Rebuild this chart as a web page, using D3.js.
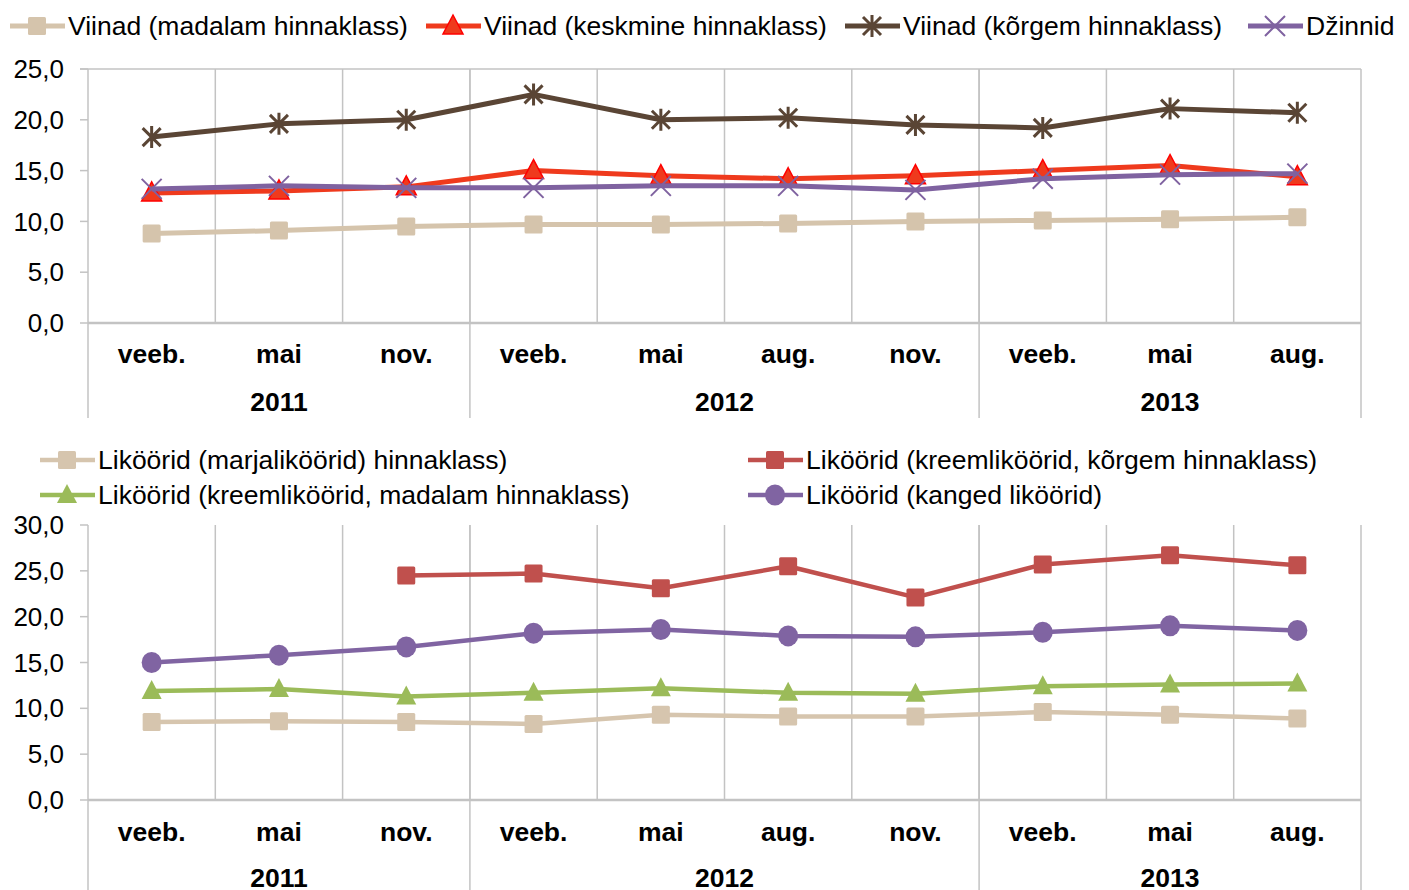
<!DOCTYPE html>
<html>
<head>
<meta charset="utf-8">
<script src="https://cdn.jsdelivr.net/npm/d3@7"></script>
<style>
  body { margin: 0; background: #fff; }
  svg { display: block; font-family: "Liberation Sans", Arial, sans-serif; }
</style>
</head>
<body>
<svg id="chart" width="1409" height="890"></svg>
<script>
// categories (shared by both panels)
var months = ["veeb.", "mai", "nov.", "veeb.", "mai", "aug.", "nov.", "veeb.", "mai", "aug."];
var years = ["2011", "2012", "2013"];
var yearSpans = [3, 4, 3];

// top panel - wines and gin
var viinMadal = [8.8, 9.1, 9.5, 9.7, 9.7, 9.8, 10.0, 10.1, 10.2, 10.4];
var viinKeskm = [12.8, 13.0, 13.4, 15.0, 14.5, 14.2, 14.5, 15.0, 15.5, 14.4];
var viinKorgem = [18.3, 19.6, 20.0, 22.5, 20.0, 20.2, 19.5, 19.2, 21.1, 20.7];
var dzinnid = [13.2, 13.5, 13.3, 13.3, 13.5, 13.5, 13.1, 14.2, 14.6, 14.7];
var topTicks = [0, 5, 10, 15, 20, 25];

// bottom panel - liqueurs
var likMarja = [8.5, 8.6, 8.5, 8.3, 9.3, 9.1, 9.1, 9.6, 9.3, 8.9];
var likKreemKorgem = [null, null, 24.5, 24.7, 23.1, 25.5, 22.1, 25.7, 26.7, 25.6];
var likKreemMadal = [11.9, 12.1, 11.3, 11.7, 12.2, 11.7, 11.6, 12.4, 12.6, 12.7];
var likKanged = [15.0, 15.8, 16.7, 18.2, 18.6, 17.9, 17.8, 18.3, 19.0, 18.5];
var bottomTicks = [0, 5, 10, 15, 20, 25, 30];

var svg = d3.select("#chart");
var gridCol = "#c3c3c3";
var left = 88, right = 1361;

var x = d3.scaleBand().domain(d3.range(months.length)).range([left, right]);

// marker drawing
function marker(g, type, cx, cy, s) {
	if (type == "square") {
		g.append("rect").attr("x", cx - 9).attr("y", cy - 9).attr("width", 18).attr("height", 18)
			.attr("rx", 1.5).attr("fill", s.color);
	} else if (type == "triangle") {
		g.append("path").attr("d", "M" + cx + "," + (cy - 11) + "L" + (cx + 10) + "," + (cy + 8) + "L" + (cx - 10) + "," + (cy + 8) + "Z")
			.attr("fill", s.fill || s.color).attr("stroke", s.mstroke || "none").attr("stroke-width", 1.5);
	} else if (type == "star") {
		var r = 9;
		g.append("path").attr("d",
			"M" + (cx - r) + "," + (cy - r) + "L" + (cx + r) + "," + (cy + r) +
			"M" + (cx - r) + "," + (cy + r) + "L" + (cx + r) + "," + (cy - r) +
			"M" + cx + "," + (cy - r - 2) + "L" + cx + "," + (cy + r + 2))
			.attr("stroke", s.color).attr("stroke-width", 3).attr("fill", "none");
	} else if (type == "x") {
		var q = 10;
		g.append("path").attr("d",
			"M" + (cx - q) + "," + (cy - q) + "L" + (cx + q) + "," + (cy + q) +
			"M" + (cx - q) + "," + (cy + q) + "L" + (cx + q) + "," + (cy - q))
			.attr("stroke", s.color).attr("stroke-width", 2).attr("fill", "none");
	} else if (type == "circle") {
		g.append("ellipse").attr("cx", cx).attr("cy", cy).attr("rx", 10).attr("ry", 10.5).attr("fill", s.color);
	}
}

function panel(cfg) {
	var y = d3.scaleLinear().domain([0, d3.max(cfg.ticks)]).range([cfg.bottom, cfg.top]);
	var g = svg.append("g");

	// vertical gridlines between categories
	for (var i = 1; i < months.length; i++) {
		g.append("line").attr("x1", x(i)).attr("x2", x(i)).attr("y1", cfg.top).attr("y2", cfg.bottom)
			.attr("stroke", gridCol).attr("stroke-width", 1.5);
	}
	// year separators
	var pos = 0;
	var seps = [0];
	yearSpans.forEach(function(n) { pos += n; seps.push(pos); });
	seps.forEach(function(k) {
		var xx = k == months.length ? right : x(k);
		g.append("line").attr("x1", xx).attr("x2", xx).attr("y1", cfg.top).attr("y2", cfg.sepEnd)
			.attr("stroke", gridCol).attr("stroke-width", 1.5);
	});
	if (cfg.topBorder) {
		g.append("line").attr("x1", left - 8).attr("x2", right).attr("y1", cfg.top).attr("y2", cfg.top)
			.attr("stroke", gridCol).attr("stroke-width", 1.5);
	}
	// y axis ticks + labels
	cfg.ticks.forEach(function(t) {
		g.append("line").attr("x1", left - 8).attr("x2", left).attr("y1", y(t)).attr("y2", y(t))
			.attr("stroke", gridCol).attr("stroke-width", 1.5);
		g.append("text").attr("x", 64).attr("y", y(t)).attr("dy", "0.35em").attr("text-anchor", "end")
			.attr("font-size", 26).attr("fill", "#000").text(d3.format(".1f")(t).replace(".", ","));
	});
	// category axis
	g.append("line").attr("x1", left).attr("x2", right).attr("y1", cfg.bottom).attr("y2", cfg.bottom)
		.attr("stroke", gridCol).attr("stroke-width", 2.5);
	months.forEach(function(m, i) {
		g.append("text").attr("x", x(i) + x.bandwidth() / 2).attr("y", cfg.catY).attr("dy", "0.35em")
			.attr("text-anchor", "middle").attr("font-size", 26.5).attr("font-weight", "bold").text(m);
	});
	years.forEach(function(yr, j) {
		var a = x(seps[j]);
		var b = seps[j + 1] == months.length ? right : x(seps[j + 1]);
		g.append("text").attr("x", (a + b) / 2).attr("y", cfg.yearY).attr("dy", "0.35em")
			.attr("text-anchor", "middle").attr("font-size", 26.5).attr("font-weight", "bold").text(yr);
	});

	// series
	var line = d3.line()
		.defined(function(d) { return d != null; })
		.x(function(d, i) { return x(i) + x.bandwidth() / 2; })
		.y(function(d) { return y(d); });

	cfg.series.forEach(function(s) {
		g.append("path").datum(s.values).attr("d", line).attr("fill", "none")
			.attr("stroke", s.color).attr("stroke-width", s.width || 5).attr("stroke-linejoin", "round");
		var mg = g.append("g");
		s.values.forEach(function(v, i) {
			if (v == null) return;
			marker(mg, s.marker, x(i) + x.bandwidth() / 2, y(v), s);
		});
	});

	// legend
	cfg.series.forEach(function(s) {
		var lg = svg.append("g");
		lg.append("line").attr("x1", s.lx).attr("x2", s.lx + 55).attr("y1", s.ly).attr("y2", s.ly)
			.attr("stroke", s.color).attr("stroke-width", s.width || 5);
		marker(lg, s.marker, s.lx + 27, s.ly, s);
		lg.append("text").attr("x", s.lx + 58).attr("y", s.ly).attr("dy", "0.35em")
			.attr("font-size", 26.5).attr("fill", "#000").text(s.name);
	});
}

panel({
	top: 69, bottom: 323, sepEnd: 418, catY: 354, yearY: 402, ticks: topTicks, topBorder: true,
	series: [
		{ name: "Viinad (madalam hinnaklass)", values: viinMadal, color: "#d5c4ac", marker: "square", lx: 10, ly: 26 },
		{ name: "Viinad (keskmine hinnaklass)", values: viinKeskm, color: "#ef3a1d", fill: "#ef3a1d", mstroke: "#ff0000", marker: "triangle", lx: 426, ly: 26 },
		{ name: "Viinad (kõrgem hinnaklass)", values: viinKorgem, color: "#5a4535", marker: "star", lx: 845, ly: 26 },
		{ name: "Džinnid", values: dzinnid, color: "#7f62a0", marker: "x", lx: 1248, ly: 26 }
	]
});

panel({
	top: 525, bottom: 800, sepEnd: 890, catY: 832, yearY: 878, ticks: bottomTicks, topBorder: false,
	series: [
		{ name: "Liköörid (marjaliköörid) hinnaklass)", values: likMarja, color: "#d6c5ae", marker: "square", width: 4.5, lx: 40, ly: 460 },
		{ name: "Liköörid (kreemliköörid, kõrgem hinnaklass)", values: likKreemKorgem, color: "#c0504d", marker: "square", width: 4.5, lx: 748, ly: 460 },
		{ name: "Liköörid (kreemliköörid, madalam hinnaklass)", values: likKreemMadal, color: "#9bbb59", marker: "triangle", width: 4.5, lx: 40, ly: 495 },
		{ name: "Liköörid (kanged liköörid)", values: likKanged, color: "#8064a2", marker: "circle", width: 4.5, lx: 748, ly: 495 }
	]
});
</script>
</body>
</html>
